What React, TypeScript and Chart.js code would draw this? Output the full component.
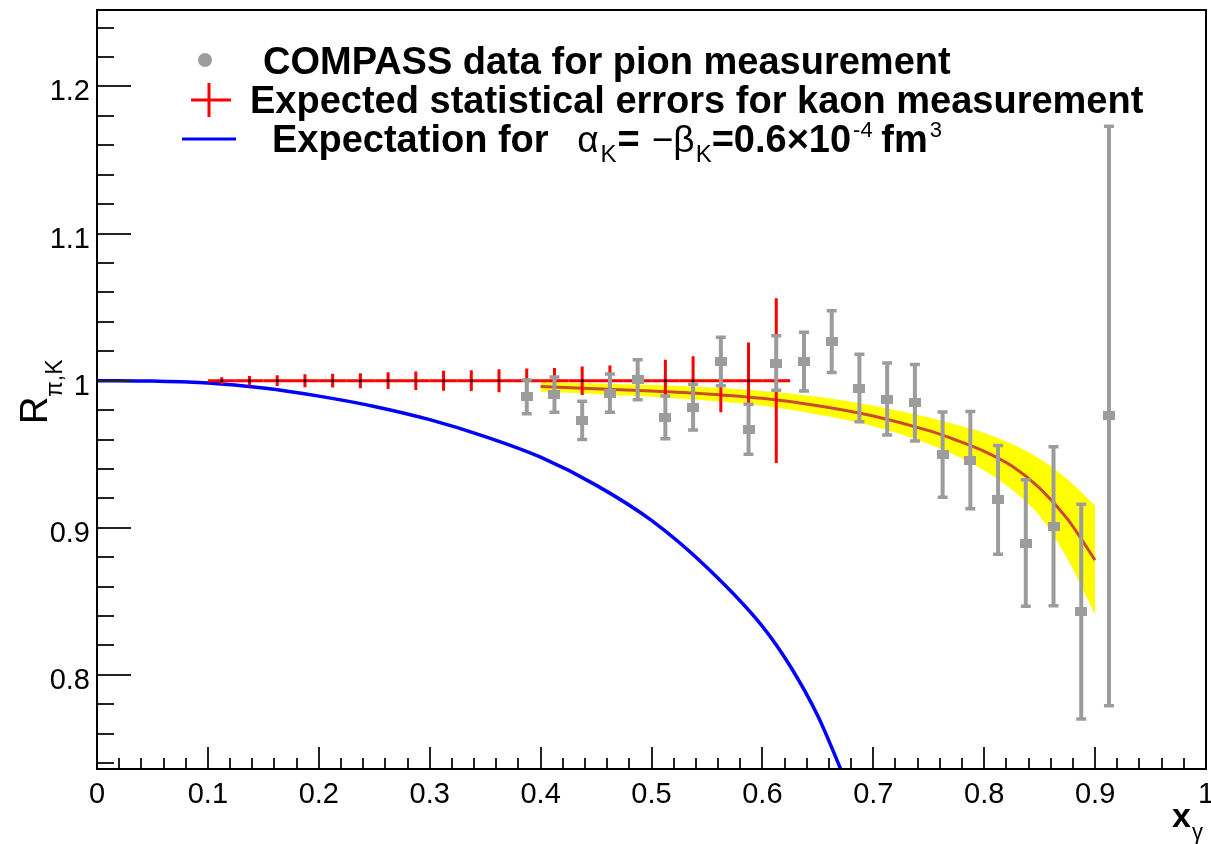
import React, { useEffect, useRef } from "react";
import { Chart, registerables } from "chart.js";

Chart.register(...registerables);

const FONT = "'Liberation Sans', Arial, Helvetica, sans-serif";

// axis ranges and tick labels
const X_MIN = 0;
const X_MAX = 1;
const Y_MIN = 0.736;
const Y_MAX = 1.252;
const xTickValues = [0, 0.1, 0.2, 0.3, 0.4, 0.5, 0.6, 0.7, 0.8, 0.9, 1];
const yTickValues = [0.8, 0.9, 1, 1.1, 1.2];
const xTickLabels = ["0", "0.1", "0.2", "0.3", "0.4", "0.5", "0.6", "0.7", "0.8", "0.9", "1"];
const yTickLabels = ["0.8", "0.9", "1", "1.1", "1.2"];
const MINOR_STEP = 0.02;

// COMPASS data for pion measurement
const pionX = [0.3875, 0.4125, 0.4375, 0.4625, 0.4875, 0.5125, 0.5375, 0.5625, 0.5875, 0.6125, 0.6375,
  0.6625, 0.6875, 0.7125, 0.7375, 0.7625, 0.7875, 0.8125, 0.8375, 0.8625, 0.8875, 0.9125];
const pionY = [0.989, 0.9905, 0.973, 0.9916, 1.0007, 0.975, 0.982, 1.013, 0.967, 1.012, 1.013,
  1.0265, 0.995, 0.9875, 0.985, 0.9497, 0.946, 0.919, 0.8896, 0.901, 0.843, 0.976];
const pionErr = [0.0115, 0.012, 0.013, 0.013, 0.0136, 0.0145, 0.0155, 0.0165, 0.017, 0.0185, 0.02,
  0.021, 0.023, 0.0245, 0.026, 0.029, 0.033, 0.037, 0.043, 0.054, 0.073, 0.197];

// Expected statistical errors for kaon measurement
const kaonX = [0.1125, 0.1375, 0.1625, 0.1875, 0.2125, 0.2375, 0.2625, 0.2875, 0.3125, 0.3375, 0.3625,
  0.3875, 0.4125, 0.4375, 0.4625, 0.4875, 0.5125, 0.5375, 0.5625, 0.5875, 0.6125];
const kaonY = [1, 1, 1, 1, 1, 1, 1, 1, 1, 1, 1, 1, 1, 1, 1, 1, 1, 1, 1, 1, 1];
const kaonErr = [0.0023, 0.0032, 0.0037, 0.0044, 0.0047, 0.0051, 0.0057, 0.0063, 0.0068, 0.0071, 0.0078,
  0.0082, 0.0087, 0.0097, 0.0103, 0.0115, 0.0143, 0.0166, 0.0215, 0.026, 0.056];
const kaonBinHalfWidth = 0.0125;

// fit to pion data with its uncertainty band
const fitX = [0.4, 0.45, 0.5, 0.55, 0.6, 0.65, 0.7, 0.75, 0.775, 0.8, 0.825, 0.85, 0.875, 0.9];
const fitY = [0.996, 0.9945, 0.993, 0.991, 0.988, 0.983, 0.976, 0.966, 0.9595, 0.952, 0.942, 0.927, 0.906, 0.878];
const bandUpper = [0.9995, 0.998, 0.997, 0.9955, 0.993, 0.989, 0.983, 0.975, 0.97, 0.9645, 0.957, 0.947, 0.933, 0.915];
const bandLower = [0.9925, 0.991, 0.989, 0.9865, 0.983, 0.977, 0.969, 0.957, 0.949, 0.939, 0.926, 0.908, 0.879, 0.841];

// expectation for alpha_K = -beta_K = 0.6e-4 fm^3
const expX = [0, 0.05, 0.1, 0.15, 0.2, 0.25, 0.3, 0.35, 0.4, 0.45, 0.5, 0.55, 0.6, 0.625, 0.65, 0.675];
const expY = [1.0, 0.9997, 0.9985, 0.995, 0.9895, 0.9825, 0.9735, 0.962, 0.948, 0.929, 0.905, 0.873,
  0.833, 0.806, 0.772, 0.728];

const legendLabels = [
  "COMPASS data for pion measurement",
  "Expected statistical errors for kaon measurement",
  "Expectation for ",
];

const pts = (xs: number[], ys: number[]) => xs.map((x, i) => ({ x, y: ys[i] }));

const PION_COLOR = "#9c9c9c";
const KAON_COLOR = "#ff0000";

const rootPlugin = {
  id: "rootStyle",
  beforeDatasetDraw(chart: any, args: any) {
    const ds = chart.data.datasets[args.index];
    const kind = ds.kind;
    if (!kind) return;
    const ctx = chart.ctx;
    const xs = chart.scales.x;
    const ys = chart.scales.y;
    const a = chart.chartArea;
    ctx.save();
    ctx.beginPath();
    ctx.rect(a.left, a.top, a.right - a.left, a.bottom - a.top);
    ctx.clip();
    if (kind === "kaon") {
      ctx.strokeStyle = KAON_COLOR;
      ctx.lineWidth = 3;
      kaonX.forEach((x, i) => {
        const px = xs.getPixelForValue(x);
        const py = ys.getPixelForValue(kaonY[i]);
        ctx.beginPath();
        ctx.moveTo(xs.getPixelForValue(x - kaonBinHalfWidth), py);
        ctx.lineTo(xs.getPixelForValue(x + kaonBinHalfWidth), py);
        ctx.moveTo(px, ys.getPixelForValue(kaonY[i] + kaonErr[i]));
        ctx.lineTo(px, ys.getPixelForValue(kaonY[i] - kaonErr[i]));
        ctx.stroke();
      });
    } else if (kind === "pion") {
      ctx.strokeStyle = PION_COLOR;
      pionX.forEach((x, i) => {
        const px = xs.getPixelForValue(x);
        const pt = ys.getPixelForValue(pionY[i] + pionErr[i]);
        const pb = ys.getPixelForValue(pionY[i] - pionErr[i]);
        ctx.lineWidth = 4;
        ctx.beginPath();
        ctx.moveTo(px, pt);
        ctx.lineTo(px, pb);
        ctx.stroke();
        ctx.lineWidth = 3.5;
        ctx.beginPath();
        ctx.moveTo(px - 5, pt);
        ctx.lineTo(px + 5, pt);
        ctx.moveTo(px - 5, pb);
        ctx.lineTo(px + 5, pb);
        ctx.stroke();
      });
    }
    ctx.restore();
  },
  afterDraw(chart: any) {
    const ctx = chart.ctx;
    const xs = chart.scales.x;
    const ys = chart.scales.y;
    const { left, right, top, bottom } = chart.chartArea;
    ctx.save();
    // ticks (inside, ROOT style)
    ctx.strokeStyle = "#222";
    ctx.lineWidth = 2;
    ctx.beginPath();
    for (let k = Math.ceil(Y_MIN / MINOR_STEP - 1e-6); k * MINOR_STEP <= Y_MAX + 1e-9; k++) {
      const v = k * MINOR_STEP;
      const major = k % 5 === 0;
      const py = Math.round(ys.getPixelForValue(v));
      ctx.moveTo(left, py);
      ctx.lineTo(left + (major ? 34 : 17), py);
    }
    for (let k = Math.ceil(X_MIN / MINOR_STEP - 1e-6); k * MINOR_STEP <= X_MAX + 1e-9; k++) {
      const v = k * MINOR_STEP;
      const major = k % 5 === 0;
      const px = Math.round(xs.getPixelForValue(v));
      ctx.moveTo(px, bottom);
      ctx.lineTo(px, bottom - (major ? 22 : 11));
    }
    ctx.stroke();
    // frame
    ctx.strokeStyle = "#000";
    ctx.lineWidth = 2;
    ctx.strokeRect(left, top, right - left, bottom - top);

    // tick labels
    ctx.fillStyle = "#000";
    ctx.font = `29px ${FONT}`;
    ctx.textBaseline = "alphabetic";
    ctx.textAlign = "center";
    xTickValues.forEach((v, i) => {
      ctx.fillText(xTickLabels[i], xs.getPixelForValue(v), 803);
    });
    ctx.textAlign = "right";
    yTickValues.forEach((v, i) => {
      ctx.fillText(yTickLabels[i], left - 7, ys.getPixelForValue(v) + 14);
    });

    // axis titles
    ctx.save();
    ctx.translate(47, 424);
    ctx.rotate(-Math.PI / 2);
    ctx.textAlign = "left";
    ctx.textBaseline = "alphabetic";
    ctx.font = `38px ${FONT}`;
    ctx.fillText("R", 0, 0);
    ctx.font = `23px ${FONT}`;
    ctx.fillText("\u03c0,K", 27, 15);
    ctx.restore();

    ctx.textAlign = "left";
    ctx.textBaseline = "alphabetic";
    ctx.font = `bold 34px ${FONT}`;
    ctx.fillText("x", 1172, 827);
    ctx.font = `22px ${FONT}`;
    ctx.fillText("\u03b3", 1192, 839);

    // legend
    ctx.fillStyle = PION_COLOR;
    ctx.beginPath();
    ctx.arc(205, 60, 7, 0, Math.PI * 2);
    ctx.fill();
    ctx.strokeStyle = KAON_COLOR;
    ctx.lineWidth = 3;
    ctx.beginPath();
    ctx.moveTo(191, 100);
    ctx.lineTo(231, 100);
    ctx.moveTo(209, 83);
    ctx.lineTo(209, 117);
    ctx.stroke();
    ctx.strokeStyle = "#0000ff";
    ctx.beginPath();
    ctx.moveTo(182, 139);
    ctx.lineTo(236, 139);
    ctx.stroke();

    ctx.fillStyle = "#000";
    const bold = `bold 38px ${FONT}`;
    ctx.font = bold;
    ctx.fillText(legendLabels[0], 263, 74);
    ctx.fillText(legendLabels[1], 250, 113);
    const pieces: [string, string, number, number][] = [
      [legendLabels[2], bold, 0, 0],
      ["\u03b1", `37px ${FONT}`, 0, 18],
      ["K", `24px ${FONT}`, 10, 2],
      ["=", bold, 0, 1],
      ["\u2212\u03b2", `37px ${FONT}`, 0, 12],
      ["K", `24px ${FONT}`, 10, 1],
      ["=0.6\u00d710", bold, 0, 0],
      ["-4", `22px ${FONT}`, -15, 2],
      [" fm", bold, 0, -2],
      ["3", `22px ${FONT}`, -15, 2],
    ];
    let cx = 272;
    pieces.forEach(([t, f, dy, gap]) => {
      cx += gap;
      ctx.font = f;
      ctx.fillText(t, cx, 152 + dy);
      cx += ctx.measureText(t).width;
    });
    ctx.restore();
  },
};

export default function App() {
  const ref = useRef<HTMLCanvasElement | null>(null);
  useEffect(() => {
    const canvas = ref.current;
    if (!canvas) return;
    const marker = document.createElement("canvas");
    marker.width = 12;
    marker.height = 9;
    const mctx = marker.getContext("2d")!;
    mctx.fillStyle = PION_COLOR;
    mctx.fillRect(0, 0, 12, 9);

    const chart = new Chart(canvas, {
      type: "scatter",
      data: {
        datasets: [
          {
            label: "band upper",
            data: pts(fitX, bandUpper),
            showLine: true,
            borderColor: "rgba(0,0,0,0)",
            borderWidth: 0,
            pointRadius: 0,
            backgroundColor: "#ffff00",
            fill: "+1",
            cubicInterpolationMode: "monotone",
            order: 6,
          } as any,
          {
            label: "band lower",
            data: pts(fitX, bandLower),
            showLine: true,
            borderColor: "rgba(0,0,0,0)",
            borderWidth: 0,
            pointRadius: 0,
            fill: false,
            cubicInterpolationMode: "monotone",
            order: 6,
          },
          {
            label: "fit",
            data: pts(fitX, fitY),
            showLine: true,
            borderColor: "#cc4a32",
            borderWidth: 3,
            pointRadius: 0,
            fill: false,
            cubicInterpolationMode: "monotone",
            order: 5,
          },
          {
            label: "expectation",
            data: pts(expX, expY),
            showLine: true,
            borderColor: "#0000ff",
            borderWidth: 3.5,
            pointRadius: 0,
            fill: false,
            cubicInterpolationMode: "monotone",
            order: 4,
          },
          {
            label: "kaon",
            kind: "kaon",
            data: pts(kaonX, kaonY),
            showLine: false,
            pointRadius: 1.5,
            pointBackgroundColor: "#000",
            pointBorderWidth: 0,
            order: 3,
          } as any,
          {
            label: "pion",
            kind: "pion",
            data: pts(pionX, pionY),
            showLine: false,
            pointStyle: marker,
            order: 2,
          } as any,
        ],
      },
      options: {
        animation: false,
        responsive: false,
        maintainAspectRatio: false,
        events: [],
        layout: { padding: { left: 0, right: 2, top: 10, bottom: 0 } },
        plugins: { legend: { display: false }, tooltip: { enabled: false } },
        scales: {
          x: {
            type: "linear",
            min: X_MIN,
            max: X_MAX,
            grid: { display: false, drawTicks: false },
            border: { display: false },
            ticks: { display: false },
            afterBuildTicks: (s: any) => {
              s.ticks = xTickValues.map((v) => ({ value: v }));
            },
            afterFit: (s: any) => {
              s.height = 75;
            },
          },
          y: {
            type: "linear",
            min: Y_MIN,
            max: Y_MAX,
            grid: { display: false, drawTicks: false },
            border: { display: false },
            ticks: { display: false },
            afterBuildTicks: (s: any) => {
              s.ticks = yTickValues.map((v) => ({ value: v }));
            },
            afterFit: (s: any) => {
              s.width = 97;
            },
          },
        },
      },
      plugins: [rootPlugin],
    });
    return () => chart.destroy();
  }, []);

  return (
    <div style={{ position: "absolute", left: 0, top: 0, width: 1211, height: 844, background: "#fff" }}>
      <canvas ref={ref} width={1211} height={844} style={{ display: "block" }} />
    </div>
  );
}
